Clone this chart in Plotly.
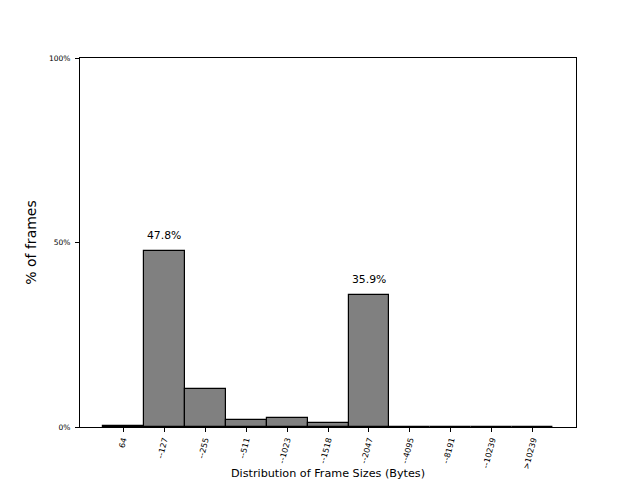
import plotly.graph_objects as go

# frame size buckets and share of frames (%)
buckets = ["64", "--127", "--255", "--511", "--1023", "--1518", "--2047",
           "--4095", "--8191", "--10239", ">10239"]
share = [0.35, 47.8, 10.3, 1.9, 2.4, 1.1, 35.9, 0.05, 0.02, 0.01, 0.01]

y_ticks = [0, 50, 100]
y_tick_text = ["0%", "50%", "100%"]

fig = go.Figure(go.Bar(
    x=buckets,
    y=share,
    marker=dict(color="#808080", line=dict(color="black", width=1.2)),
    width=1.0,
))

# etiquetas de las barras grandes
for b, v in zip(buckets, share):
    if v > 30:
        fig.add_annotation(x=b, y=v, text=f"{v:.1f}%", showarrow=False,
                           yanchor="middle", yshift=15,
                           font=dict(size=10.8, color="black"))

fig.add_annotation(xref="paper", yref="paper", x=0.5, y=-0.1247,
                   text="Distribution of Frame Sizes (Bytes)", showarrow=False,
                   yanchor="middle", font=dict(size=11.2, color="black"))

# la pagina deja 8px de margen, por eso 632x472
fig.update_layout(
    width=632, height=472,
    margin=dict(l=72, r=64, t=50, b=53),
    paper_bgcolor="white", plot_bgcolor="white",
    font=dict(family="DejaVu Sans", color="black"),
    showlegend=False,
    bargap=0,
)
fig.update_xaxes(
    type="category", range=[-1.05, 11.05], automargin=False,
    showline=True, linecolor="black", linewidth=1, mirror=True,
    ticks="outside", ticklen=4, tickcolor="black",
    tickangle=-75, tickfont=dict(size=8),
    showgrid=False,
)
fig.update_yaxes(
    range=[0, 100], tickvals=y_ticks, ticktext=y_tick_text, automargin=False,
    showline=True, linecolor="black", linewidth=1, mirror=True,
    ticks="outside", ticklen=4, tickcolor="black", ticklabelstandoff=3,
    tickfont=dict(size=7.5), showgrid=False, zeroline=False,
    title=dict(text="% of frames", font=dict(size=14), standoff=9),
)

fig.write_html("out.html")
